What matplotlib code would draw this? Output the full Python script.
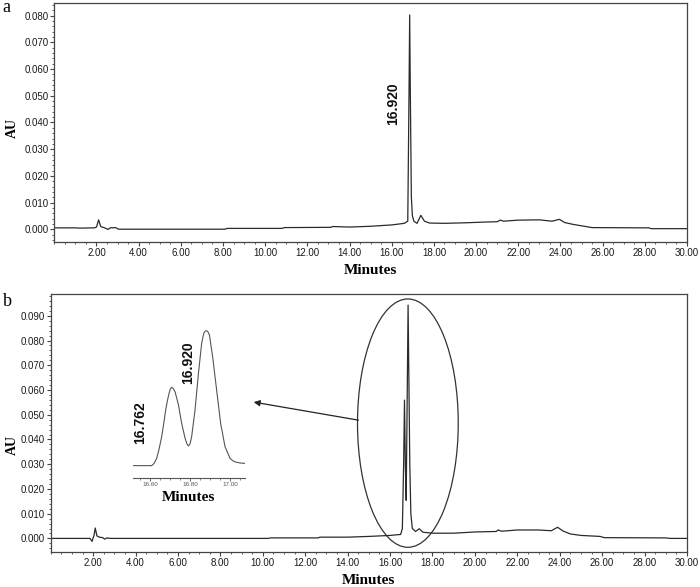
import numpy as np
import matplotlib
matplotlib.use("Agg")
import matplotlib.pyplot as plt
from matplotlib.patches import Ellipse
from matplotlib.ticker import FixedLocator, MultipleLocator, FormatStrFormatter

# chromatogram a (minutes, AU)
tempo_a = [0.0, 1.0, 1.2, 1.9, 2.0, 2.1, 2.2, 2.35, 2.45, 2.55, 2.65, 2.9, 3.05,
           8.1, 8.2, 10.8, 10.9, 13.1, 13.2, 14.0, 15.0, 16.0, 16.6, 16.76,
           16.82, 16.85, 16.88, 16.93, 16.98, 17.05, 17.2, 17.38, 17.55, 17.8,
           18.5, 19.5, 20.5, 21.0, 21.15, 21.3, 22.0, 23.0, 23.6, 23.95, 24.2,
           24.6, 25.2, 25.5, 28.2, 28.3, 30.0]
au_a = [0.0005, 0.0005, 0.0004, 0.0005, 0.0008, 0.0035, 0.0010, 0.0006, 0.0003,
        -0.0001, 0.0005, 0.0006, 0.0000, 0.0000, 0.0003, 0.0003, 0.0006, 0.0007,
        0.0010, 0.0008, 0.0011, 0.0016, 0.0022, 0.0030, 0.0520, 0.0803, 0.0520,
        0.0120, 0.0050, 0.0030, 0.0022, 0.0052, 0.0030, 0.0023, 0.0022, 0.0024,
        0.0027, 0.0028, 0.0034, 0.0030, 0.0034, 0.0035, 0.0030, 0.0037, 0.0025,
        0.0018, 0.0010, 0.0006, 0.0005, 0.0002, 0.0002]

# chromatogram b
tempo_b = [0.0, 1.85, 1.95, 2.05, 2.1, 2.18, 2.3, 2.45, 2.55, 2.65, 2.8, 10.25,
           10.35, 12.6, 12.7, 14.0, 15.0, 16.0, 16.5, 16.58, 16.64, 16.68, 16.72,
           16.76, 16.80, 16.85, 16.89, 16.93, 16.98, 17.05, 17.2, 17.38, 17.55,
           18.0, 19.0, 20.0, 21.0, 21.1, 21.25, 22.0, 23.0, 23.6, 23.9, 24.15,
           24.5, 25.0, 25.9, 26.1, 29.0, 29.2, 30.0]
au_b = [0.0000, 0.0000, -0.0012, 0.0015, 0.0042, 0.0010, 0.0005, 0.0003, -0.0003,
        0.0002, 0.0000, 0.0000, 0.0002, 0.0002, 0.0005, 0.0005, 0.0008, 0.0012,
        0.0016, 0.0040, 0.0300, 0.0559, 0.0300, 0.0154, 0.0500, 0.0943, 0.0620,
        0.0300, 0.0100, 0.0040, 0.0028, 0.0039, 0.0025, 0.0021, 0.0021, 0.0026,
        0.0028, 0.0034, 0.0029, 0.0034, 0.0034, 0.0031, 0.0045, 0.0030, 0.0018,
        0.0012, 0.0008, 0.0003, 0.0002, 0.0000, 0.0000]

# zoomed view of the double peak (inset)
tempo_zoom = [16.505, 16.608, 16.620, 16.633, 16.645, 16.658, 16.668, 16.678,
              16.687, 16.695, 16.701, 16.708, 16.716, 16.725, 16.742, 16.758,
              16.775, 16.785, 16.792, 16.800, 16.808, 16.825, 16.842, 16.858,
              16.865, 16.870, 16.877, 16.883, 16.890, 16.897, 16.913, 16.933,
              16.953, 16.975, 17.000, 17.015, 17.033, 17.055, 17.075]
au_zoom = [0.0000, 0.0000, 0.0016, 0.0051, 0.0115, 0.0202, 0.0290, 0.0388,
           0.0455, 0.0504, 0.0533, 0.0546, 0.0537, 0.0515, 0.0423, 0.0295,
           0.0191, 0.0150, 0.0137, 0.0152, 0.0202, 0.0388, 0.0643, 0.0852,
           0.0900, 0.0926, 0.0938, 0.0940, 0.0932, 0.0910, 0.0759, 0.0527,
           0.0295, 0.0132, 0.0051, 0.0033, 0.0023, 0.0018, 0.0016]

ticks_x = [2, 4, 6, 8, 10, 12, 14, 16, 18, 20, 22, 24, 26, 28, 30]
ticks_ya = [0.0, 0.01, 0.02, 0.03, 0.04, 0.05, 0.06, 0.07, 0.08]
ticks_yb = [0.0, 0.01, 0.02, 0.03, 0.04, 0.05, 0.06, 0.07, 0.08, 0.09]
ticks_zoom = [16.6, 16.8, 17.0]

cor_linha = "#2a2a2a"
cor_eixo = "#444444"
serif = "Liberation Serif"
sans = "Liberation Sans"

fig = plt.figure(figsize=(7.0, 5.87), dpi=100)
ax_a = fig.add_axes([54.3 / 700, 1 - 242 / 587, 632.7 / 700, 239 / 587])
ax_b = fig.add_axes([50.7 / 700, 1 - 552 / 587, 636.3 / 700, 258 / 587])


def arruma_eixo(ax, ticks_y, ylim):
    ax.set_xlim(0, 30)
    ax.set_ylim(*ylim)
    ax.xaxis.set_major_locator(FixedLocator(ticks_x))
    ax.xaxis.set_minor_locator(MultipleLocator(0.5))
    ax.yaxis.set_major_locator(FixedLocator(ticks_y))
    ax.yaxis.set_minor_locator(MultipleLocator(0.002))
    ax.xaxis.set_major_formatter(FormatStrFormatter("%.2f"))
    ax.yaxis.set_major_formatter(FormatStrFormatter("%.3f"))
    ax.tick_params(which="major", direction="out", length=3, width=0.8,
                   color=cor_eixo, labelsize=7, labelcolor="#1a1a1a", pad=1)
    ax.tick_params(which="minor", direction="out", length=1.6, width=0.6,
                   color=cor_eixo)
    for lab in ax.get_xticklabels() + ax.get_yticklabels():
        lab.set_family(sans)
    for s in ax.spines.values():
        s.set_color(cor_eixo)
        s.set_linewidth(0.9)
    ax.set_xlabel("Minutes", family=serif, fontweight="bold", fontsize=11,
                  labelpad=5)


ax_a.plot(tempo_a, au_a, color=cor_linha, lw=0.9)
arruma_eixo(ax_a, ticks_ya, (-0.0048, 0.0848))
ax_a.text(16.06, 0.0472, "16.920", rotation=90, ha="center", va="center",
          family=sans, fontsize=10, fontweight="bold", color="#111111")

ax_b.plot(tempo_b, au_b, color=cor_linha, lw=0.9)
arruma_eixo(ax_b, ticks_yb, (-0.0055, 0.0988))

ax_b.add_patch(Ellipse((16.84, 0.0466), 4.75, 0.1004, fill=False,
                       edgecolor="#333333", lw=0.9))
ax_b.annotate("", xy=(9.57, 0.0551), xytext=(14.51, 0.0478),
              arrowprops=dict(arrowstyle="-|>", color="#222222", lw=0.9,
                              mutation_scale=9, shrinkA=0, shrinkB=0))

# inset
ax_in = fig.add_axes([132.7 / 700, 1 - 477.7 / 587, 112.3 / 700, 152.7 / 587])
ax_in.plot(tempo_zoom, au_zoom, color="#555555", lw=0.8)
ax_in.set_xlim(16.513, 17.075)
ax_in.set_ylim(-0.0084, 0.098)
ax_in.patch.set_alpha(0)
for lado in ["top", "right", "left"]:
    ax_in.spines[lado].set_visible(False)
ax_in.spines["bottom"].set_color("#555555")
ax_in.spines["bottom"].set_linewidth(0.8)
ax_in.set_yticks([])
ax_in.xaxis.set_major_locator(FixedLocator(ticks_zoom))
ax_in.xaxis.set_minor_locator(MultipleLocator(0.05))
ax_in.xaxis.set_major_formatter(FormatStrFormatter("%.2f"))
ax_in.tick_params(axis="x", which="major", direction="out", length=2,
                  width=0.6, color="#555555", labelsize=4.5,
                  labelcolor="#555555", pad=1)
ax_in.tick_params(axis="x", which="minor", direction="out", length=1.2,
                  width=0.5, color="#555555")
for lab in ax_in.get_xticklabels():
    lab.set_family(sans)
ax_in.set_xlabel("Minutes", family=serif, fontweight="bold", fontsize=11,
                 labelpad=3)
ax_in.text(16.55, 0.0297, "16.762", rotation=90, ha="center", va="center",
           family=sans, fontsize=10, fontweight="bold", color="#111111")
ax_in.text(16.79, 0.0715, "16.920", rotation=90, ha="center", va="center",
           family=sans, fontsize=10, fontweight="bold", color="#111111")

# AU labels and panel letters
fig.text(12.3 / 700, 1 - 128 / 587, "AU", rotation=90, ha="center",
         va="center", family=serif, fontweight="bold", fontsize=10)
fig.text(12 / 700, 1 - 445 / 587, "AU", rotation=90, ha="center",
         va="center", family=serif, fontweight="bold", fontsize=10)
fig.text(6.5 / 700, 1 - 7.5 / 587, "a", ha="center", va="center",
         family=serif, fontsize=13)
fig.text(7.5 / 700, 1 - 302 / 587, "b", ha="center", va="center",
         family=serif, fontsize=13)

fig.savefig("out.png", dpi=100)
